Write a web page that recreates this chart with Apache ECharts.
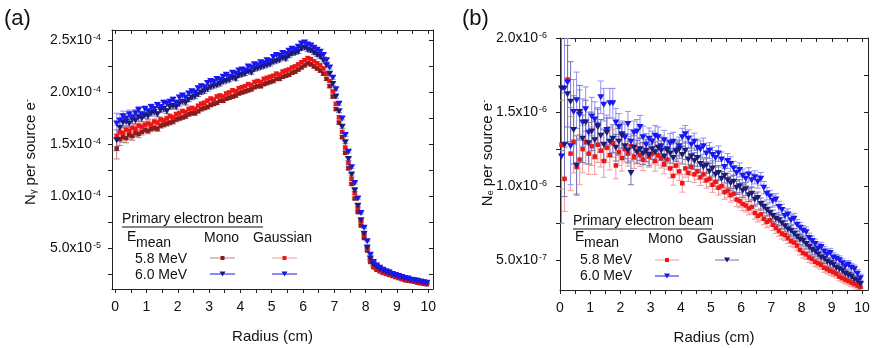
<!DOCTYPE html>
<html><head><meta charset="utf-8">
<script src="https://cdn.jsdelivr.net/npm/echarts@6/dist/echarts.min.js"></script>
<style>html,body{margin:0;padding:0;background:#fff}#c{width:874px;height:348px}</style>
</head><body><div id="c"></div>
<script>
// ---------- data ----------
const radius = [0.05,0.15,0.25,0.35,0.45,0.55,0.65,0.75,0.85,0.95,
1.05,1.15,1.25,1.35,1.45,1.55,1.65,1.75,1.85,1.95,
2.05,2.15,2.25,2.35,2.45,2.55,2.65,2.75,2.85,2.95,
3.05,3.15,3.25,3.35,3.45,3.55,3.65,3.75,3.85,3.95,
4.05,4.15,4.25,4.35,4.45,4.55,4.65,4.75,4.85,4.95,
5.05,5.15,5.25,5.35,5.45,5.55,5.65,5.75,5.85,5.95,
6.05,6.15,6.25,6.35,6.45,6.55,6.65,6.75,6.85,6.95,
7.05,7.15,7.25,7.35,7.45,7.55,7.65,7.75,7.85,7.95,
8.05,8.15,8.25,8.35,8.45,8.55,8.65,8.75,8.85,8.95,
9.05,9.15,9.25,9.35,9.45,9.55,9.65,9.75,9.85,9.95];

const xTickValues = [0,0.5,1,1.5,2,2.5,3,3.5,4,4.5,5,5.5,6,6.5,7,7.5,8,8.5,9,9.5,10];
const xLabelValues = [0,1,2,3,4,5,6,7,8,9,10];
const yLabelsA = [5e-5,1e-4,1.5e-4,2e-4,2.5e-4];
const yTicksA = [2.5e-5,5e-5,7.5e-5,1e-4,1.25e-4,1.5e-4,1.75e-4,2e-4,2.25e-4,2.5e-4];
const yLabelsB = [5e-7,1e-6,1.5e-6,2e-6];
const yTicksB = [5e-7,7.5e-7,1e-6,1.25e-6,1.5e-6,1.75e-6,2e-6];

// Panel (a): N_gamma per source e-, values in units of 1e-4
const unitA = 1e-4;
const a_gauss60 = [1.70,1.73,1.77,1.75,1.79,1.76,1.80,1.83,1.79,1.84,
1.82,1.86,1.84,1.88,1.86,1.90,1.89,1.91,1.93,1.90,
1.95,1.97,1.95,1.99,2.01,2.00,2.04,2.06,2.05,2.09,
2.11,2.10,2.13,2.12,2.15,2.17,2.15,2.19,2.18,2.21,
2.22,2.21,2.25,2.24,2.27,2.26,2.29,2.28,2.31,2.30,
2.34,2.36,2.35,2.38,2.37,2.40,2.42,2.41,2.44,2.47,
2.48,2.46,2.45,2.43,2.41,2.39,2.36,2.31,2.24,2.14,
2.03,1.89,1.75,1.59,1.43,1.28,1.13,0.98,0.84,0.70,
0.57,0.44,0.37,0.335,0.315,0.295,0.28,0.27,0.255,0.245,
0.235,0.225,0.215,0.21,0.20,0.195,0.19,0.18,0.175,0.17];
const a_mono60 = [1.54,1.66,1.71,1.72,1.70,1.74,1.73,1.76,1.75,1.78,
1.77,1.80,1.81,1.79,1.83,1.84,1.82,1.86,1.87,1.86,
1.89,1.91,1.90,1.93,1.95,1.96,1.98,2.00,2.01,2.03,
2.05,2.06,2.07,2.08,2.10,2.11,2.12,2.14,2.13,2.16,
2.17,2.18,2.20,2.19,2.22,2.23,2.24,2.25,2.26,2.27,
2.29,2.30,2.31,2.33,2.32,2.35,2.37,2.38,2.39,2.42,
2.43,2.41,2.40,2.38,2.36,2.34,2.31,2.26,2.18,2.08,
1.96,1.82,1.67,1.52,1.36,1.21,1.06,0.91,0.77,0.64,
0.51,0.40,0.345,0.32,0.30,0.285,0.27,0.26,0.25,0.24,
0.23,0.22,0.21,0.205,0.195,0.19,0.185,0.18,0.17,0.165];
const a_gauss58 = [1.58,1.62,1.61,1.64,1.63,1.66,1.65,1.68,1.67,1.69,
1.70,1.69,1.72,1.71,1.74,1.73,1.75,1.77,1.76,1.79,
1.80,1.82,1.81,1.84,1.85,1.84,1.87,1.89,1.90,1.92,
1.94,1.93,1.96,1.97,1.96,1.99,2.00,2.02,2.01,2.04,
2.05,2.06,2.08,2.07,2.10,2.11,2.10,2.13,2.14,2.15,
2.16,2.18,2.17,2.20,2.21,2.22,2.24,2.25,2.27,2.29,
2.31,2.33,2.32,2.30,2.28,2.26,2.23,2.18,2.11,2.01,
1.89,1.76,1.62,1.47,1.32,1.17,1.03,0.89,0.76,0.63,
0.50,0.39,0.33,0.305,0.285,0.27,0.26,0.25,0.24,0.23,
0.22,0.21,0.20,0.195,0.19,0.185,0.175,0.17,0.165,0.16];
const a_mono58 = [1.46,1.55,1.57,1.56,1.59,1.58,1.61,1.60,1.62,1.64,
1.63,1.65,1.66,1.65,1.68,1.69,1.70,1.71,1.72,1.74,
1.75,1.76,1.77,1.79,1.80,1.80,1.82,1.84,1.85,1.86,
1.88,1.89,1.90,1.92,1.92,1.94,1.95,1.96,1.97,1.99,
2.00,2.01,2.02,2.03,2.05,2.06,2.06,2.08,2.09,2.10,
2.11,2.13,2.13,2.15,2.16,2.17,2.19,2.20,2.22,2.24,
2.26,2.28,2.27,2.25,2.23,2.21,2.18,2.13,2.06,1.96,
1.84,1.71,1.57,1.42,1.27,1.12,0.98,0.85,0.72,0.60,
0.48,0.37,0.32,0.295,0.28,0.265,0.255,0.245,0.235,0.225,
0.215,0.205,0.195,0.19,0.185,0.18,0.17,0.165,0.16,0.155];
const a_err = [0.10,0.06,0.05,0.045,0.04,0.04,0.035,0.035,0.03,0.03,
0.028,0.027,0.026,0.025,0.025,0.024,0.024,0.023,0.023,0.022,
0.022,0.021,0.021,0.02,0.02,0.02,0.02,0.019,0.019,0.019,
0.019,0.018,0.018,0.018,0.018,0.018,0.017,0.017,0.017,0.017,
0.017,0.017,0.016,0.016,0.016,0.016,0.016,0.016,0.016,0.016,
0.016,0.016,0.016,0.016,0.016,0.016,0.016,0.016,0.016,0.016,
0.016,0.016,0.016,0.016,0.016,0.016,0.016,0.016,0.015,0.015,
0.015,0.014,0.014,0.013,0.013,0.012,0.011,0.011,0.01,0.009,
0.008,0.007,0.006,0.006,0.005,0.005,0.005,0.005,0.005,0.005,
0.005,0.005,0.004,0.004,0.004,0.004,0.004,0.004,0.004,0.004];

// Panel (b): N_e per source e-, values in units of 1e-6
const unitB = 1e-6;
const b_mono60 = [1.20,1.66,1.70,1.27,1.50,1.58,1.48,1.43,1.52,1.36,
1.47,1.45,1.41,1.60,1.55,1.38,1.56,1.56,1.43,1.40,
1.35,1.33,1.42,1.30,1.36,1.37,1.40,1.33,1.28,1.32,
1.30,1.34,1.33,1.27,1.31,1.25,1.29,1.30,1.24,1.27,
1.33,1.35,1.32,1.28,1.30,1.26,1.25,1.27,1.22,1.24,
1.21,1.19,1.22,1.18,1.13,1.17,1.15,1.12,1.09,1.11,
1.07,1.05,1.08,1.04,1.06,1.03,1.05,0.99,0.95,0.93,
0.90,0.91,0.86,0.84,0.80,0.81,0.77,0.78,0.74,0.72,
0.70,0.69,0.65,0.63,0.61,0.58,0.59,0.56,0.54,0.55,
0.52,0.51,0.50,0.48,0.46,0.47,0.45,0.44,0.41,0.38];
const b_gauss60 = [1.66,1.28,1.62,1.57,1.38,1.14,1.50,1.32,1.43,1.29,
1.37,1.31,1.40,1.34,1.28,1.36,1.30,1.32,1.26,1.30,
1.34,1.27,1.24,1.09,1.26,1.23,1.25,1.22,1.24,1.21,
1.25,1.23,1.26,1.24,1.20,1.24,1.22,1.19,1.23,1.25,
1.21,1.24,1.18,1.20,1.17,1.19,1.15,1.13,1.14,1.10,
1.12,1.08,1.09,1.05,1.07,1.04,1.02,1.03,0.99,1.00,
0.97,0.98,0.94,0.95,0.91,0.92,0.88,0.86,0.84,0.82,
0.80,0.78,0.77,0.75,0.73,0.71,0.70,0.68,0.66,0.64,
0.63,0.61,0.59,0.57,0.56,0.54,0.52,0.51,0.49,0.48,
0.47,0.45,0.44,0.43,0.41,0.40,0.39,0.37,0.36,0.34];
const b_mono58 = [1.28,1.05,1.72,1.22,1.30,1.13,1.18,1.25,1.30,1.22,
1.27,1.20,1.28,1.24,1.17,1.26,1.21,1.29,1.14,1.23,
1.19,1.25,1.22,1.27,1.20,1.24,1.21,1.18,1.23,1.20,
1.22,1.17,1.21,1.19,1.15,1.18,1.12,1.07,1.14,1.10,
1.02,1.12,1.09,1.13,1.08,1.10,1.06,1.08,1.04,1.05,
1.01,1.03,0.99,1.00,0.96,0.97,0.94,0.95,0.91,0.90,
0.88,0.87,0.85,0.86,0.82,0.80,0.81,0.78,0.76,0.77,
0.74,0.72,0.70,0.68,0.67,0.65,0.63,0.62,0.60,0.57,
0.55,0.54,0.52,0.51,0.49,0.48,0.47,0.45,0.44,0.43,
0.42,0.41,0.39,0.38,0.37,0.36,0.35,0.34,0.33,0.32];
const b_err_mono60 = [0.45,0.40,0.30,0.26,0.22,0.19,0.17,0.16,0.15,0.14,
0.13,0.12,0.12,0.11,0.11,0.10,0.10,0.10,0.095,0.09,
0.09,0.088,0.085,0.083,0.08,0.08,0.078,0.076,0.075,0.073,
0.072,0.07,0.07,0.068,0.067,0.066,0.065,0.064,0.063,0.062,
0.061,0.06,0.06,0.059,0.058,0.057,0.056,0.055,0.055,0.054,
0.053,0.052,0.052,0.051,0.05,0.05,0.049,0.048,0.048,0.047,
0.046,0.046,0.045,0.045,0.044,0.043,0.043,0.042,0.042,0.041,
0.04,0.04,0.039,0.039,0.038,0.038,0.037,0.037,0.036,0.036,
0.035,0.035,0.034,0.034,0.033,0.033,0.032,0.032,0.031,0.031,
0.031,0.03,0.03,0.03,0.029,0.029,0.028,0.028,0.028,0.027];
const b_err_gauss60 = [0.42,0.35,0.33,0.27,0.23,0.20,0.18,0.16,0.15,0.14,
0.13,0.125,0.12,0.11,0.105,0.10,0.10,0.095,0.09,0.09,
0.087,0.085,0.083,0.08,0.08,0.078,0.076,0.074,0.073,0.072,
0.07,0.069,0.068,0.067,0.066,0.065,0.064,0.063,0.062,0.061,
0.06,0.059,0.058,0.057,0.056,0.055,0.054,0.054,0.053,0.052,
0.051,0.05,0.05,0.049,0.048,0.047,0.047,0.046,0.045,0.045,
0.044,0.044,0.043,0.042,0.042,0.041,0.041,0.04,0.04,0.039,
0.039,0.038,0.038,0.037,0.037,0.036,0.036,0.035,0.035,0.034,
0.034,0.033,0.033,0.032,0.032,0.031,0.031,0.031,0.03,0.03,
0.03,0.029,0.029,0.028,0.028,0.028,0.027,0.027,0.026,0.026];
const b_err_mono58 = [0.30,0.22,0.32,0.25,0.21,0.18,0.17,0.16,0.15,0.14,
0.13,0.12,0.12,0.11,0.11,0.10,0.10,0.095,0.09,0.09,
0.088,0.086,0.084,0.082,0.08,0.078,0.076,0.075,0.073,0.072,
0.07,0.069,0.068,0.067,0.066,0.065,0.064,0.063,0.062,0.061,
0.06,0.059,0.058,0.057,0.056,0.056,0.055,0.054,0.053,0.052,
0.051,0.05,0.05,0.049,0.048,0.048,0.047,0.046,0.046,0.045,
0.044,0.044,0.043,0.043,0.042,0.041,0.041,0.04,0.04,0.039,
0.039,0.038,0.038,0.037,0.037,0.036,0.036,0.035,0.035,0.034,
0.034,0.033,0.033,0.032,0.032,0.031,0.031,0.03,0.03,0.03,
0.029,0.029,0.028,0.028,0.028,0.027,0.027,0.026,0.026,0.026];

// ---------- styling ----------
const FONT = '"Liberation Sans", Arial, sans-serif';
const TXT = '#111';
const C = {
  maroon: '#8a1c1c', maroonErr: '#c08080',
  red: '#ee1515', redErr: '#f59a9a',
  blue: '#1717ee', blueErr: '#9090f2',
  navy: '#1c1c78', navyErr: '#7474b0'
};

function pts(vals, errs, unit) {
  return radius.map((r, i) => [r, vals[i] * unit, errs[i] * unit]);
}

function errRender(color) {
  return function (params, api) {
    const x = api.value(0), y = api.value(1), e = api.value(2);
    const p = api.coord([x, y]);
    const t = api.coord([x, y + e]);
    const b = api.coord([x, y - e]);
    const l = api.coord([x - 0.05, y]);
    const r = api.coord([x + 0.05, y]);
    const st = { stroke: color, lineWidth: 1 };
    const cap = 3;
    return {
      type: 'group',
      children: [
        { type: 'line', shape: { x1: p[0], y1: t[1], x2: p[0], y2: b[1] }, style: st },
        { type: 'line', shape: { x1: p[0] - cap, y1: t[1], x2: p[0] + cap, y2: t[1] }, style: st },
        { type: 'line', shape: { x1: p[0] - cap, y1: b[1], x2: p[0] + cap, y2: b[1] }, style: st },
        { type: 'line', shape: { x1: l[0], y1: p[1], x2: r[0], y2: p[1] }, style: st }
      ]
    };
  };
}

function sciLabel(v) {
  const e = Math.floor(Math.log10(v) + 1e-9);
  const m = v / Math.pow(10, e);
  return '{m|' + m.toFixed(1) + 'x10}{e|' + e + '}';
}
const sciRich = {
  m: { fontSize: 14, color: TXT, fontFamily: FONT },
  e: { fontSize: 9, color: TXT, fontFamily: FONT, verticalAlign: 'top', padding: [0, 0, 0, 1] }
};

function xAxes(gi, min, max) {
  return [
    {
      type: 'value', gridIndex: gi, position: 'bottom', min: min, max: max,
      name: 'Radius (cm)', nameLocation: 'middle', nameGap: 40,
      nameTextStyle: { fontSize: 15, color: TXT, fontFamily: FONT },
      axisLine: { show: true, onZero: false, lineStyle: { color: '#222', width: 1 } },
      axisTick: { show: true, inside: false, length: 4, customValues: xTickValues, lineStyle: { color: '#222' } },
      axisLabel: { show: true, margin: 11, customValues: xLabelValues, fontSize: 14, color: TXT, fontFamily: FONT,
        formatter: v => String(Math.round(v)) },
      splitLine: { show: false }
    },
    {
      type: 'value', gridIndex: gi, position: 'top', min: min, max: max,
      axisLine: { show: true, onZero: false, lineStyle: { color: '#222', width: 1 } },
      axisTick: { show: true, inside: true, length: 4, customValues: xTickValues, lineStyle: { color: '#222' } },
      axisLabel: { show: false },
      splitLine: { show: false }
    }
  ];
}
function yAxes(gi, min, max, labels, ticks, margin) {
  return [
    {
      type: 'value', gridIndex: gi, position: 'left', min: min, max: max,
      axisLine: { show: true, onZero: false, lineStyle: { color: '#222', width: 1 } },
      axisTick: { show: true, inside: false, length: 4, customValues: ticks, lineStyle: { color: '#222' } },
      axisLabel: { show: true, margin: margin, customValues: labels, formatter: sciLabel, rich: sciRich },
      splitLine: { show: false }
    },
    {
      type: 'value', gridIndex: gi, position: 'right', min: min, max: max,
      axisLine: { show: true, onZero: false, lineStyle: { color: '#222', width: 1 } },
      axisTick: { show: true, inside: true, length: 4, customValues: ticks, lineStyle: { color: '#222' } },
      axisLabel: { show: false },
      splitLine: { show: false }
    }
  ];
}

function errSeries(xi, yi, data, color) {
  return {
    type: 'custom', xAxisIndex: xi, yAxisIndex: yi, clip: true, silent: true,
    renderItem: errRender(color), encode: { x: 0, y: 1 }, data: data, z: 2
  };
}
function markSeries(xi, yi, data, color, tri) {
  return {
    type: 'scatter', xAxisIndex: xi, yAxisIndex: yi, clip: true, silent: true,
    symbol: tri ? 'triangle' : 'rect', symbolRotate: tri ? 180 : 0,
    symbolSize: tri ? [7, 6] : 4.5,
    itemStyle: { color: color, opacity: 1 },
    data: data.map(d => [d[0], d[1]]), z: 3
  };
}

const A1 = pts(a_mono58, a_err, unitA), A2 = pts(a_gauss58, a_err, unitA),
      A3 = pts(a_mono60, a_err, unitA), A4 = pts(a_gauss60, a_err, unitA);
const B1 = pts(b_mono58, b_err_mono58, unitB), B2 = pts(b_mono60, b_err_mono60, unitB),
      B3 = pts(b_gauss60, b_err_gauss60, unitB);

// ---------- legend / annotations (graphic) ----------
function txt(x, y, s, size, align) {
  return { type: 'text', x: x, y: y, silent: true,
    style: { text: s, fontSize: size || 14, fontFamily: FONT, fill: TXT, align: align || 'left', verticalAlign: 'middle' } };
}
function hline(x1, x2, y, color) {
  return { type: 'line', silent: true, shape: { x1: x1, y1: y, x2: x2, y2: y }, style: { stroke: color, lineWidth: 1 } };
}
function sq(cx, cy, color) {
  return { type: 'rect', silent: true, shape: { x: cx - 2, y: cy - 2, width: 4, height: 4 }, style: { fill: color } };
}
function tri(cx, cy, color) {
  return { type: 'polygon', silent: true, shape: { points: [[cx - 3, cy - 2.5], [cx + 3, cy - 2.5], [cx, cy + 2.5]] }, style: { fill: color } };
}
function yTitle(x, y, sub) {
  return { type: 'text', x: x, y: y, rotation: Math.PI / 2, silent: true,
    style: { text: '{n|N}{s|' + sub + '}{t| per source e}{p|-}', align: 'center', verticalAlign: 'middle',
      rich: {
        n: { fontSize: 15, fontFamily: FONT, fill: TXT, color: TXT },
        s: { fontSize: 9, fontFamily: FONT, fill: TXT, color: TXT, verticalAlign: 'bottom' },
        t: { fontSize: 15, fontFamily: FONT, fill: TXT, color: TXT },
        p: { fontSize: 9, fontFamily: FONT, fill: TXT, color: TXT, verticalAlign: 'top' }
      } } };
}

const graphics = [
  txt(4, 19, '(a)', 22),
  txt(462, 19, '(b)', 22),
  yTitle(31, 152, 'γ'),
  yTitle(488, 153, 'e'),
  // legend (a)
  txt(122, 219, 'Primary electron beam'),
  hline(122, 263, 227, '#111'),
  txt(127, 237, 'E'), txt(136, 243, 'mean'),
  txt(204, 238, 'Mono'), txt(253, 238, 'Gaussian'),
  txt(135, 259, '5.8 MeV'), txt(135, 275, '6.0 MeV'),
  hline(210, 235, 258, C.maroonErr), sq(222.5, 258, C.maroon),
  hline(272, 297, 258, C.redErr), sq(284.5, 258, C.red),
  hline(210, 235, 274, C.blue), tri(222.5, 274, C.navy),
  hline(272, 297, 274, C.blue), tri(284.5, 274, C.blue),
  // legend (b)
  txt(573, 221, 'Primary electron beam'),
  hline(573, 712, 229, '#111'),
  txt(575, 237, 'E'), txt(584, 243, 'mean'),
  txt(648, 239, 'Mono'), txt(697, 239, 'Gaussian'),
  txt(580, 260, '5.8 MeV'), txt(580, 276, '6.0 MeV'),
  hline(655, 679, 260, C.redErr), sq(667, 260, C.red),
  hline(655, 679, 276, C.blue), tri(667, 276, C.blue),
  hline(715, 739, 260, C.navyErr), tri(727, 260, C.navy)
];

const option = {
  backgroundColor: '#fff',
  animation: false,
  textStyle: { fontFamily: FONT },
  grid: [
    { left: 112, top: 30, width: 321, height: 259, containLabel: false, outerBoundsMode: 'none' },
    { left: 560, top: 38, width: 308, height: 252, containLabel: false, outerBoundsMode: 'none' }
  ],
  xAxis: [].concat(xAxes(0, -0.1, 10.15), xAxes(1, 0, 10.2)),
  yAxis: [].concat(yAxes(0, 1.1e-5, 2.6e-4, yLabelsA, yTicksA, 11), yAxes(1, 3e-7, 2e-6, yLabelsB, yTicksB, 13)),
  series: [
    errSeries(0, 0, A1, C.maroonErr), errSeries(0, 0, A2, C.redErr),
    errSeries(0, 0, A3, C.navyErr), errSeries(0, 0, A4, C.blueErr),
    markSeries(0, 0, A1, C.maroon, false), markSeries(0, 0, A2, C.red, false),
    markSeries(0, 0, A3, C.navy, true), markSeries(0, 0, A4, C.blue, true),
    errSeries(2, 2, B1, C.redErr), errSeries(2, 2, B2, C.blueErr), errSeries(2, 2, B3, C.navyErr),
    markSeries(2, 2, B1, C.red, false), markSeries(2, 2, B2, C.blue, true), markSeries(2, 2, B3, C.navy, true)
  ],
  graphic: graphics
};

const chart = echarts.init(document.getElementById('c'), null, { renderer: 'canvas', width: 874, height: 348 });
chart.setOption(option);
</script>
</body></html>
